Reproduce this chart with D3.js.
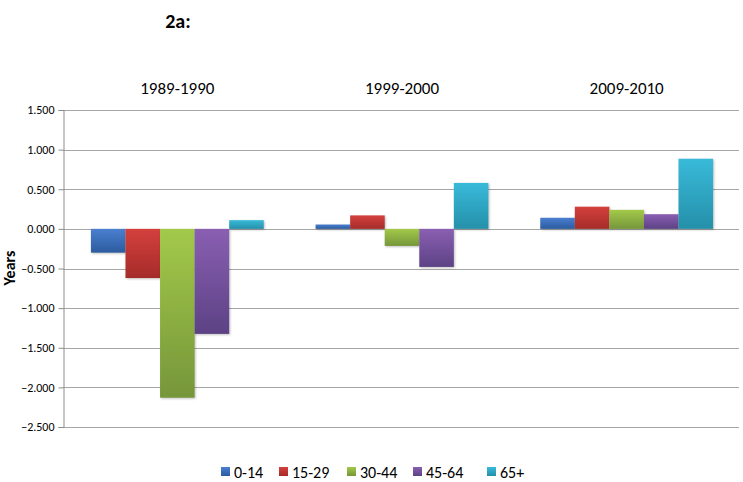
<!DOCTYPE html>
<html><head><meta charset="utf-8">
<script src="https://cdn.jsdelivr.net/npm/d3@7"></script>
<style>body{margin:0;background:#fff}svg{display:block}text{font-family:Carlito,Lato,"Open Sans",sans-serif}</style>
</head><body>
<script>
const categories = ["1989-1990", "1999-2000", "2009-2010"];
const seriesNames = ["0-14", "15-29", "30-44", "45-64", "65+"];
const values0_14 = [-0.30, 0.055, 0.14];
const values15_29 = [-0.62, 0.17, 0.28];
const values30_44 = [-2.13, -0.215, 0.24];
const values45_64 = [-1.325, -0.48, 0.185];
const values65 = [0.11, 0.58, 0.885];
const yTicks = [1.5, 1.0, 0.5, 0, -0.5, -1.0, -1.5, -2.0, -2.5];
const seriesValues = [values0_14, values15_29, values30_44, values45_64, values65];
const colorsTop = ["#4a7fd0", "#d4403d", "#a3c94a", "#8a5fb2", "#38bad9"];
const colorsBot = ["#2c5c9f", "#a52c29", "#76963a", "#5c4284", "#2590aa"];

const W = 743, H = 482;
const svg = d3.select("body").append("svg").attr("width", W).attr("height", H);
const defs = svg.append("defs");
seriesNames.forEach((s, i) => {
  const g = defs.append("linearGradient").attr("id", "g" + i).attr("x1", 0).attr("y1", 0).attr("x2", 0).attr("y2", 1);
  g.append("stop").attr("offset", "0%").attr("stop-color", colorsTop[i]);
  g.append("stop").attr("offset", "100%").attr("stop-color", colorsBot[i]);
});

const axisX = 63, x0 = 65, x1 = 739;
const y = d3.scaleLinear().domain([-2.5, 1.5]).range([427, 110]);
const xb = d3.scaleBand().domain(categories).range([x0, x1]).paddingInner(0).paddingOuter(0);
const bw = xb.bandwidth() / 6.5;
const xs = d3.scaleBand().domain(seriesNames).range([0, bw * 5]);

// gridlines
svg.append("g").selectAll("line").data(yTicks).join("line")
  .attr("x1", axisX).attr("x2", x1).attr("y1", d => Math.round(y(d)) + 0.5).attr("y2", d => Math.round(y(d)) + 0.5)
  .attr("stroke", "#a6a6a6").attr("stroke-width", 1);

// y axis
const yAxis = d3.axisLeft(y).tickValues(yTicks).tickFormat(d3.format(".3f")).tickSize(5);
const ga = svg.append("g").attr("transform", `translate(${axisX + 0.5},0)`).call(yAxis);
ga.select(".domain").attr("stroke", "#8c8c8c");
ga.selectAll(".tick line").attr("stroke", "#8c8c8c");
ga.selectAll(".tick text").attr("font-size", 12).attr("fill", "#000").attr("x", -9)
  .style("font-family", "Carlito,Lato,'Open Sans',sans-serif");

// bars
seriesNames.forEach((s, i) => {
  svg.append("g").selectAll("rect").data(seriesValues[i]).join("rect")
    .attr("x", (d, j) => xb(categories[j]) + bw * 0.75 + xs(s))
    .attr("width", xs.bandwidth())
    .attr("y", d => Math.min(y(d), y(0)))
    .attr("height", d => Math.abs(y(d) - y(0)))
    .attr("fill", `url(#g${i})`)
    .style("filter", "drop-shadow(1px 1px 1px rgba(0,0,0,0.25))");
});

// category labels at top
svg.append("g").selectAll("text").data(categories).join("text")
  .attr("x", d => xb(d) + xb.bandwidth() / 2).attr("y", 94)
  .attr("text-anchor", "middle").attr("font-size", 17).attr("fill", "#000").text(d => d);

// title
svg.append("text").attr("x", 178).attr("y", 28).attr("text-anchor", "middle")
  .attr("font-size", 20).attr("font-weight", "bold").text("2a:");

// y title
svg.append("text").attr("transform", "translate(15,268) rotate(-90)").attr("text-anchor", "middle")
  .attr("font-size", 16).attr("font-weight", "bold").text("Years");

// legend
const legX = [221, 279, 347, 413, 487];
const lg = svg.append("g").selectAll("g").data(seriesNames).join("g")
  .attr("transform", (d, i) => `translate(${legX[i]},472)`);
lg.append("rect").attr("x", 0).attr("y", -5).attr("width", 9).attr("height", 9).attr("fill", (d, i) => `url(#g${i})`);
lg.append("text").attr("x", 13).attr("y", 5.5).attr("font-size", 16).text(d => d);
</script>
</body></html>
